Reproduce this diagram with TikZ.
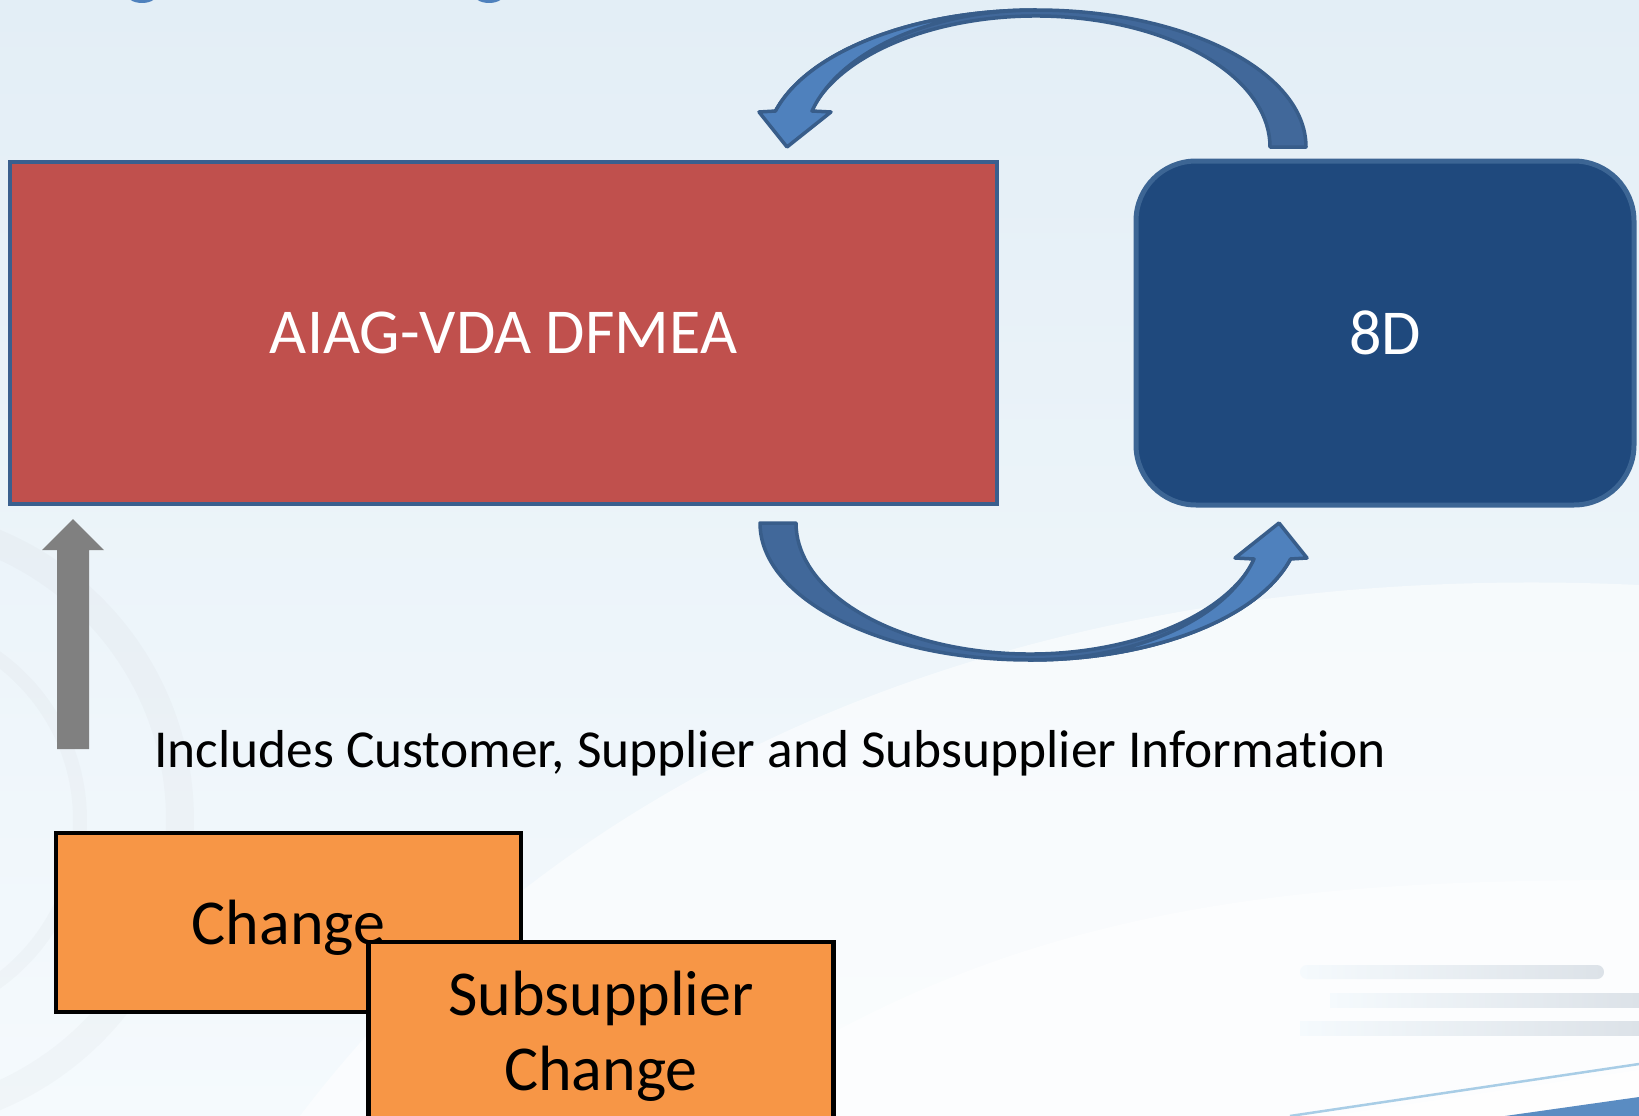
\documentclass[tikz,border=0pt]{standalone}
\usepackage{fontspec}
\setmainfont{Carlito}[Ligatures=NoCommon]
\usetikzlibrary{calc}
\definecolor{bgtop}{HTML}{E3EEF6}
\definecolor{bgbot}{HTML}{F5FAFD}
\definecolor{redfill}{HTML}{C0504D}
\definecolor{boxline}{HTML}{3A5F8E}
\definecolor{navy}{HTML}{1F497D}
\definecolor{navyline}{HTML}{3C6594}
\definecolor{orangefill}{HTML}{F79646}
\definecolor{arrlight}{HTML}{4F81BD}
\definecolor{arrdark}{HTML}{41689A}
\definecolor{arrline}{HTML}{385D8A}
\definecolor{grayarrow}{HTML}{808080}
\definecolor{streak}{HTML}{DCE2E8}
\definecolor{cornerblue}{HTML}{5A8CC2}
\definecolor{thinblue}{HTML}{A8CDE6}
\begin{document}
\begin{tikzpicture}[x=1pt,y=-1pt,
  mainbox/.style={draw=boxline, line width=4pt, fill=redfill, text=white,
    minimum width=987pt, minimum height=342pt, inner sep=0pt,
    font=\fontsize{64}{77}\selectfont},
  eightbox/.style={draw=navyline, line width=5pt, fill=navy, text=white,
    rounded corners=60pt, minimum width=498pt, minimum height=344pt, inner sep=0pt,
    font=\fontsize{64}{77}\selectfont},
  chbox/.style={draw=black, line width=4.5pt, fill=orangefill, text=black,
    minimum width=465pt, inner sep=0pt, align=center,
    font=\fontsize{64}{75}\selectfont},
  notetext/.style={inner sep=0pt, text=black, font=\fontsize{53.4}{64}\selectfont},
  backpart/.style={fill=arrdark, draw=arrline, line width=3.5pt, line join=round},
  frontpart/.style={fill=arrlight, draw=arrline, line width=3.5pt, line join=round},
  faint/.style={draw=gray, opacity=0.035}
]
\useasboundingbox (0,0) rectangle (1639,1116);
\begin{scope}
\clip (0,0) rectangle (1639,1116);
% background
\shade[top color=bgtop, bottom color=bgbot] (0,0) rectangle (1639,1116);
\fill[white, opacity=0.55] (300,1116) .. controls (600,720) and (1100,560) .. (1639,585) -- (1639,1116) -- cycle;
\fill[white, opacity=0.5] (700,1116) .. controls (1000,900) and (1300,880) .. (1639,880) -- (1639,1116) -- cycle;
% faint gear watermark
\draw[faint, line width=28pt] (-120,820) circle[radius=300];
\draw[faint, line width=14pt] (-120,820) circle[radius=200];
% streaks bottom right
\shade[left color=bgbot, right color=streak, rounded corners=7pt] (1300,965) rectangle (1604,979);
\shade[left color=bgbot, right color=streak] (1330,993) rectangle (1639,1007);
\shade[left color=bgbot, right color=streak] (1300,1021) rectangle (1639,1035);
% bottom-right corner swoosh
\fill[white, opacity=0.8] (1330,1116) -- (1639,1070) -- (1639,1100) -- (1510,1116) -- cycle;
\draw[thinblue, line width=2.5pt] (1290,1116) -- (1639,1064);
\fill[cornerblue] (1505,1116) -- (1639,1097) -- (1639,1116) -- cycle;
% cut-off title fragments
\fill[arrlight] (142,-7) ellipse[x radius=16, y radius=10];
\fill[arrlight] (489,-7) ellipse[x radius=16, y radius=10];

% main boxes
\node[mainbox] (dfmea) at (503.5,333) {AIAG-VDA DFMEA};
\node[eightbox] (eightd) at (1385,333) {8D};

% top curved arrow (from 8D back to DFMEA)
\coordinate (topc) at (1036,147);
\draw[backpart] (1306,147) arc[start angle=0, end angle=-164.77, x radius=270, y radius=137]
  -- ($(topc)+(-164.77:234 and 131)$) arc[start angle=-164.77, end angle=0, x radius=234, y radius=131] -- cycle;
\draw[frontpart] (1036,10) arc[start angle=-90, end angle=-164.77, x radius=270, y radius=137]
  -- (759,112) -- (787,147) -- (831,112) -- (812,111)
  arc[start angle=-164.77, end angle=-90, x radius=232.2, y radius=137] -- cycle;

% bottom curved arrow (from DFMEA to 8D), same shape turned by 180 degrees
\begin{scope}[rotate around={180:(1033,335)}]
\coordinate (botc) at (1036,147);
\draw[backpart] (1306,147) arc[start angle=0, end angle=-164.77, x radius=270, y radius=137]
  -- ($(botc)+(-164.77:234 and 131)$) arc[start angle=-164.77, end angle=0, x radius=234, y radius=131] -- cycle;
\draw[frontpart] (1036,10) arc[start angle=-90, end angle=-164.77, x radius=270, y radius=137]
  -- (759,112) -- (787,147) -- (831,112) -- (812,111)
  arc[start angle=-164.77, end angle=-90, x radius=232.2, y radius=137] -- cycle;
\end{scope}

% gray up arrow
\fill[grayarrow] (57,749) -- (57,550) -- (42,550) -- (73,519) -- (104,550) -- (89,550) -- (89,749) -- cycle;

% note
\node[notetext, anchor=base west] (info) at (154,767) {Includes Customer, Supplier and Subsupplier Information};

% change boxes
\node[chbox, minimum height=179pt, text depth=0pt] (change) at (288.5,922.5) {Change};
\node[chbox, minimum height=188pt] (subchange) at (601,1036) {Subsupplier\\Change};
\end{scope}
\end{tikzpicture}
\end{document}
